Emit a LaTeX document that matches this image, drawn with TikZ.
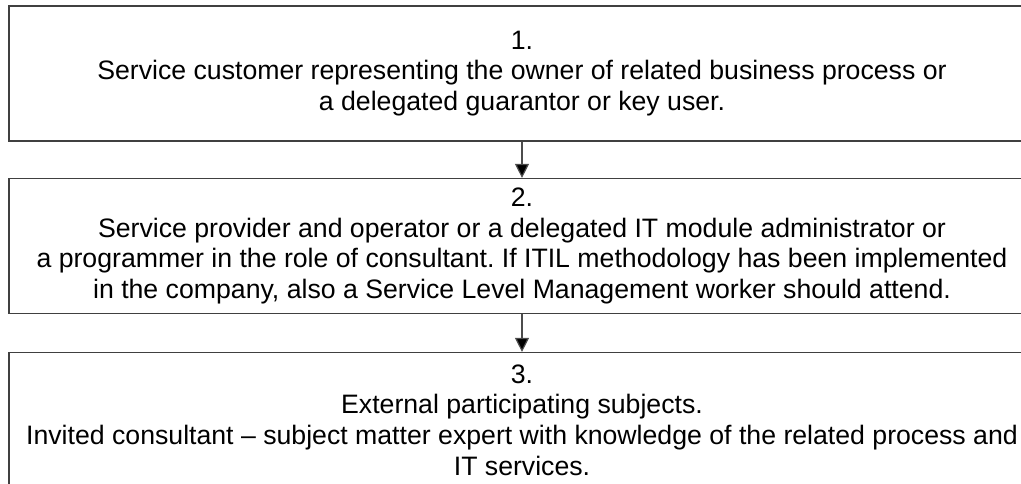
\documentclass[tikz,border=0pt]{standalone}
\usepackage{fontspec}
\setmainfont{Liberation Sans}
\usetikzlibrary{arrows.meta}
\frenchspacing

\begin{document}
\begin{tikzpicture}[x=0.75pt, y=-0.75pt, line width=0.9pt,
	font=\fontsize{20pt}{23pt}\selectfont]
	\tikzset{
		partbox/.style={draw=black!75, align=center, inner sep=0pt,
			minimum width=1026*0.75pt, minimum height=135*0.75pt},
		flow/.style={draw=black!70, -{Triangle[length=10.5pt, width=10.5pt, fill=black]}}
	}
	\useasboundingbox (0, 0) rectangle (1021, 484);
	\clip (0, 0) rectangle (1021, 484);

	\node[partbox] (p1) at (522, 73.5) {1.\\Service customer representing the owner of related business process or\\a delegated guarantor or key user.};
	\node[partbox] (p2) at (522, 246) {2.\\Service provider and operator or a delegated IT module administrator or\\a programmer in the role of consultant. If ITIL methodology has been implemented\\in the company, also a Service Level Management worker should attend.};
	\node[partbox] (p3) at (522, 420) {3.\\External participating subjects.\\Invited consultant -- subject matter expert with knowledge of the related process and\\IT services.};

	\draw[flow] (p1) -- (p2);
	\draw[flow] (p2) -- (p3);
\end{tikzpicture}
\end{document}
